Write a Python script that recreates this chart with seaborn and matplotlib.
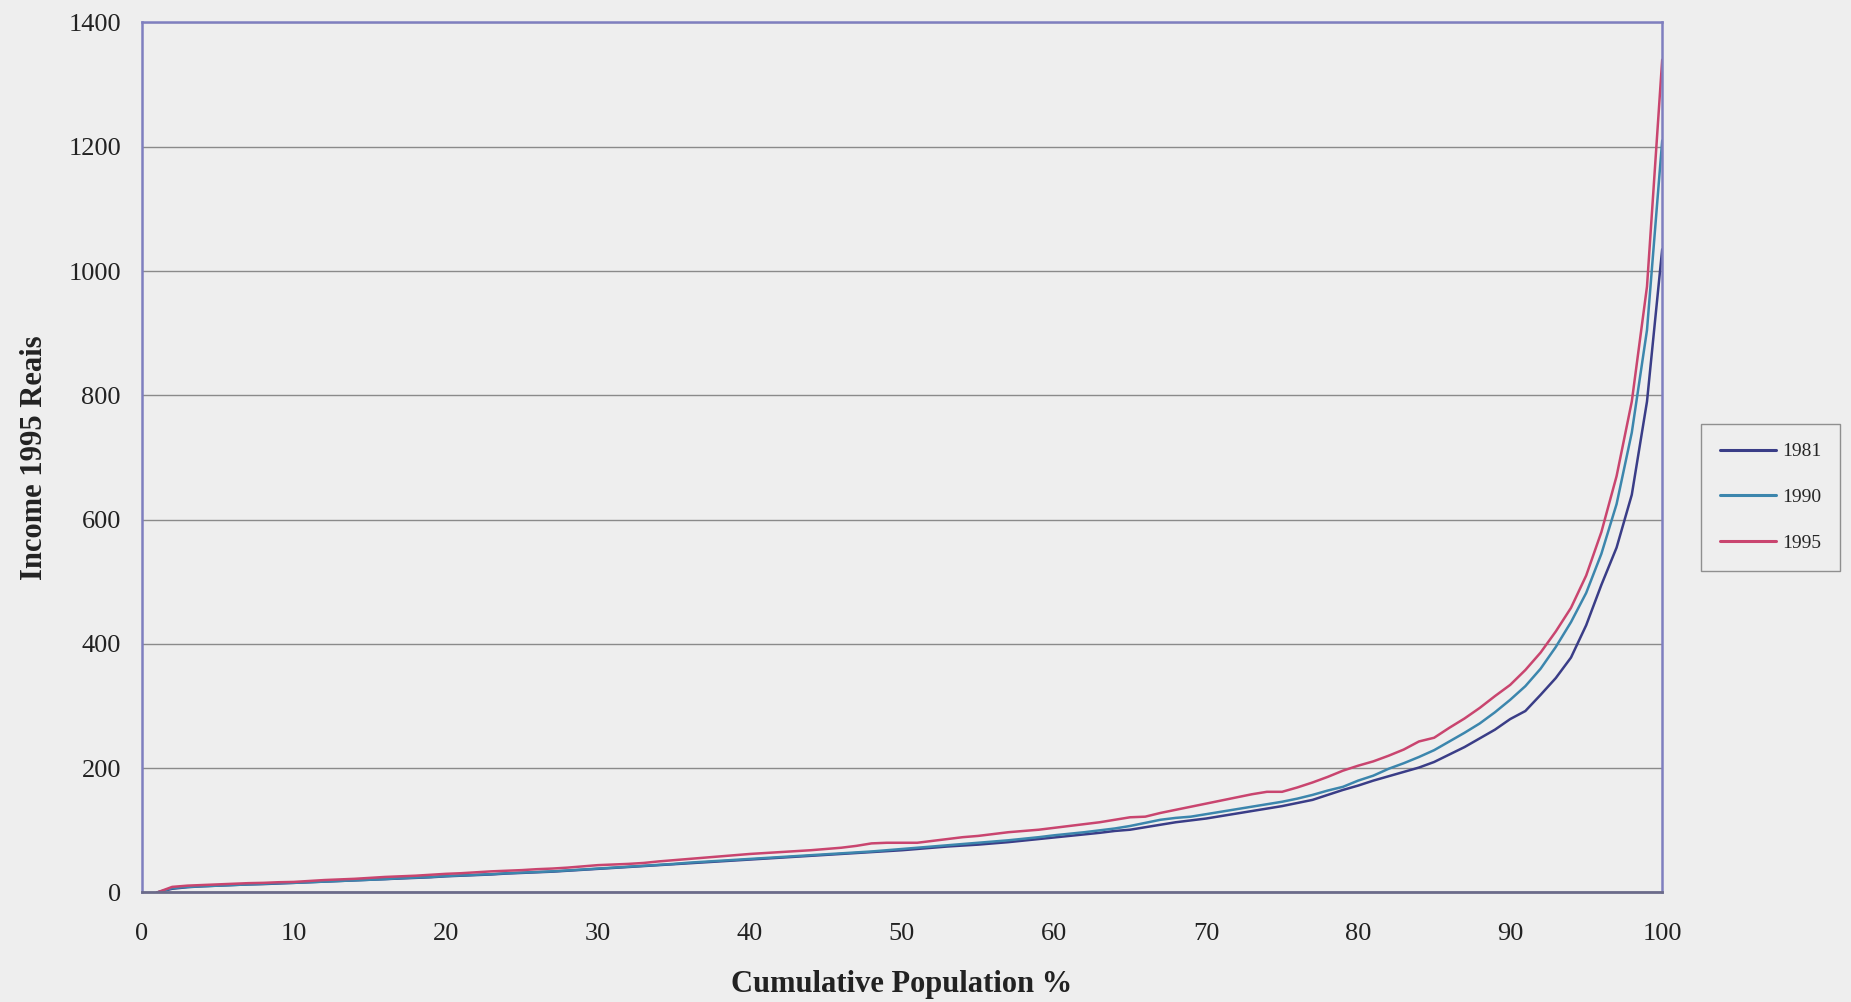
import numpy as np
import pandas as pd
import matplotlib
matplotlib.use("Agg")
import matplotlib.pyplot as plt
import seaborn as sns

percentiles = list(range(1, 101))

income_1981 = [0, 6, 8.5, 10, 11, 12, 13, 13.5, 14.5, 15.5,
               16.5, 17.5, 18.5, 19.5, 20.5, 21.5, 22.5, 23.5, 24.5, 26,
               27, 28, 29, 30.5, 31.5, 32.5, 33.5, 35, 36.5, 38,
               39.5, 41, 42.5, 44, 45.5, 47, 48.5, 50, 51.5, 53,
               54.5, 56, 57.5, 59, 60.5, 62, 63.5, 65, 66.5, 68,
               70, 72, 74, 75.5, 77, 79, 81, 83.5, 86, 88.5,
               91, 93.5, 96, 99, 101, 105, 109, 113, 116, 119,
               123, 127, 131, 135, 139, 144, 149, 157, 165, 172,
               180, 187, 194, 201, 210, 222, 234, 248, 262, 279,
               292, 318, 345, 378, 430, 495, 555, 640, 790, 1035]

income_1990 = [0, 7, 9, 10, 11, 12, 13, 14, 15, 15.5,
               16.5, 17.5, 18.5, 19.5, 20.5, 21.5, 23, 24, 25, 26.5,
               27.5, 28.5, 29.5, 31, 32, 33, 34, 35.5, 37, 38.5,
               40, 41.5, 43, 44.5, 46, 48, 49.5, 51, 52.5, 54,
               55.5, 57, 58.5, 60, 61.5, 63, 64.5, 66, 68, 70,
               72, 74, 76, 78, 80, 82, 84, 86.5, 89, 92,
               94.5, 97, 100, 103, 107, 112, 117, 120, 122, 126,
               130, 134, 138, 142, 146, 151, 157, 164, 170, 180,
               188, 199, 208, 218, 229, 243, 257, 272, 290, 310,
               332, 360, 395, 435, 482, 545, 625, 740, 905, 1210]

income_1995 = [0, 9, 11, 12, 13, 14, 15, 15.5, 16.5, 17,
               18.5, 20, 21, 22, 23.5, 25, 26, 27, 28.5, 30,
               31, 32.5, 34, 35, 36, 37.5, 38.5, 40, 42, 44,
               45, 46, 47.5, 50, 52, 54, 56, 58, 60, 62,
               63.5, 65, 66.5, 68, 70, 72, 75, 79, 80, 80,
               80, 83, 86, 89, 91, 94, 97, 99, 101, 104,
               107, 110, 113, 117, 121, 122, 128, 133, 138, 143,
               148, 153, 158, 162, 162, 169, 177, 186, 196, 204,
               211, 220, 230, 243, 249, 265, 280, 297, 316, 334,
               358, 386, 420, 458, 510, 580, 670, 790, 975, 1340]

years = ["1981", "1990", "1995"]
colors = {"1981": "#3a3d87", "1990": "#3c86ad", "1995": "#c9456f"}

df = pd.concat([
    pd.DataFrame({"Cumulative Population %": percentiles, "Income": vals, "Year": yr})
    for yr, vals in zip(years, [income_1981, income_1990, income_1995])
], ignore_index=True)

sns.set_theme(style="white")
plt.rcParams["font.family"] = ["Liberation Serif", "DejaVu Serif"]

bg = "#eeeeee"
fig = plt.figure(figsize=(18.51, 10.02), dpi=100, facecolor=bg)
ax = fig.add_axes([0.0766, 0.1093, 0.8214, 0.8683])
ax.set_facecolor(bg)

sns.lineplot(data=df, x="Cumulative Population %", y="Income", hue="Year",
             palette=colors, linewidth=1.8, ax=ax, legend=True)

ax.set_xlim(0, 100)
ax.set_ylim(0, 1400)
ax.set_xticks(np.arange(0, 101, 10))
ax.set_yticks(np.arange(0, 1401, 200))
ax.yaxis.grid(True, color="#8a8a8a", linewidth=1.0)
ax.xaxis.grid(False)
ax.set_axisbelow(True)

for side in ["top", "right", "left"]:
    ax.spines[side].set_color("#7f7fbf")
    ax.spines[side].set_linewidth(1.8)
ax.spines["bottom"].set_color("#6b6b8a")
ax.spines["bottom"].set_linewidth(2.0)

ax.tick_params(axis="both", which="major", direction="out", length=6,
               width=1.0, color="#777777", labelsize=19, labelcolor="#222222", pad=9)
ax.tick_params(axis="x", pad=16)

ax.set_xlabel("Cumulative Population %", fontsize=22, fontweight="bold", labelpad=18, color="#222222")
ax.set_ylabel("Income 1995 Reais", fontsize=22, fontweight="bold", labelpad=14, color="#222222")

handles, labels = ax.get_legend_handles_labels()
ax.get_legend().remove()
leg = fig.legend(handles, labels, loc="center", bbox_to_anchor=(0.9565, 0.5035),
                 fontsize=14, frameon=True, fancybox=False, handlelength=2.9,
                 handletextpad=0.3, labelspacing=1.45, borderpad=0.95)
leg.get_frame().set_edgecolor("#777777")
leg.get_frame().set_facecolor(bg)
leg.get_frame().set_linewidth(1.0)
for line in leg.get_lines():
    line.set_linewidth(2.2)

fig.savefig("out.png", dpi=100, facecolor=bg)
